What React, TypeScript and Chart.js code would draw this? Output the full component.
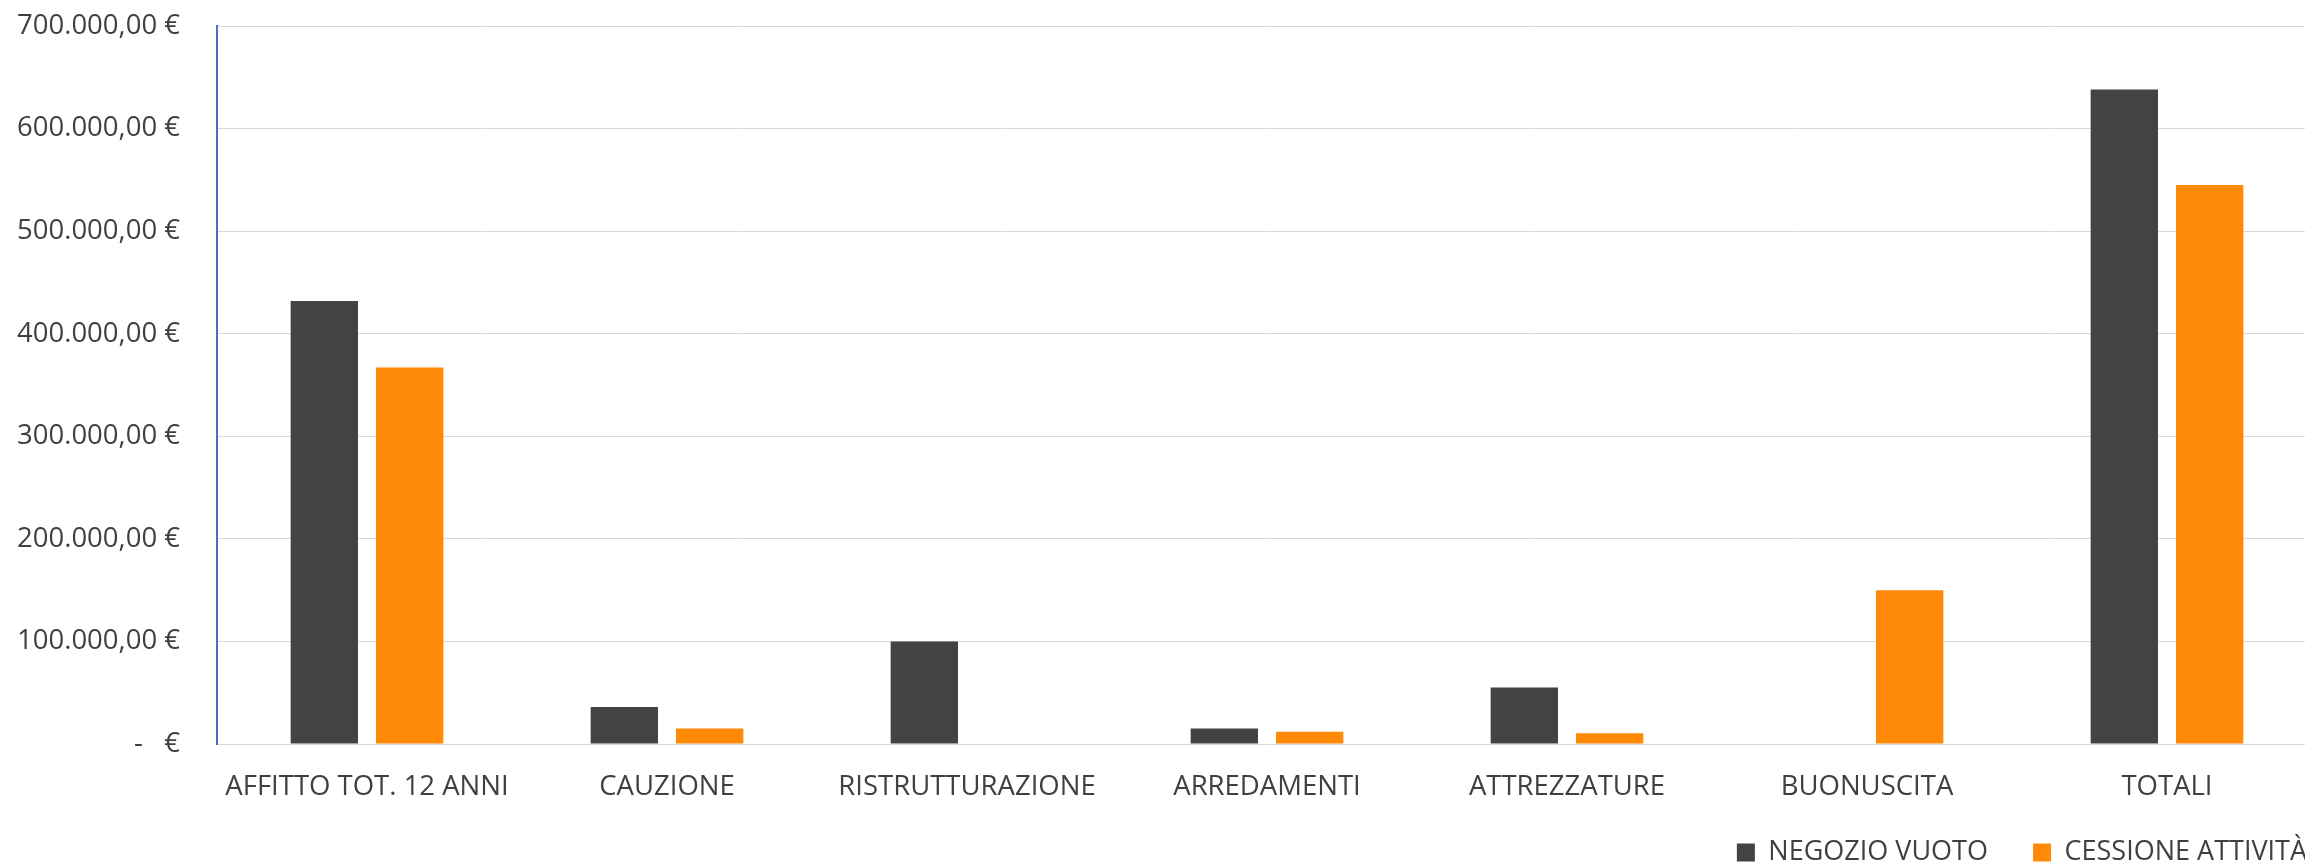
import React, { useEffect, useRef } from "react";
import { Chart, registerables } from "chart.js";

Chart.register(...registerables);

const categories = [
  "AFFITTO TOT. 12 ANNI",
  "CAUZIONE",
  "RISTRUTTURAZIONE",
  "ARREDAMENTI",
  "ATTREZZATURE",
  "BUONUSCITA",
  "TOTALI",
];
const negozioVuoto = [432000, 36000, 100000, 15000, 55000, 0, 638000];
const cessioneAttivita = [367000, 15000, 0, 12000, 10500, 150000, 545000];
const seriesNames = ["NEGOZIO VUOTO", "CESSIONE ATTIVITÀ"];
const yMax = 700000;
const yStep = 100000;

const fmtEuro = (v: number) => {
  if (v === 0) return "-   €";
  return String(Math.round(v)).replace(/\B(?=(\d{3})+(?!\d))/g, ".") + ",00 €";
};

const TEXT = "#404040";
const FONT = "'Open Sans'";

export default function App() {
  const ref = useRef<HTMLCanvasElement | null>(null);
  useEffect(() => {
    if (!ref.current) return;
    const chart = new Chart(ref.current, {
      type: "bar",
      data: {
        labels: categories,
        datasets: [
          {
            label: seriesNames[0],
            data: negozioVuoto,
            backgroundColor: "#434343",
            borderWidth: 0,
            categoryPercentage: 0.569,
            barPercentage: 0.789,
          },
          {
            label: seriesNames[1],
            data: cessioneAttivita,
            backgroundColor: "#FF8A07",
            borderWidth: 0,
            categoryPercentage: 0.569,
            barPercentage: 0.789,
          },
        ],
      },
      options: {
        animation: false,
        responsive: false,
        devicePixelRatio: 1,
        layout: { padding: { top: 26, left: 0, right: 0, bottom: 0 } },
        plugins: {
          tooltip: { enabled: false },
          legend: {
            position: "bottom",
            align: "end",
            labels: {
              color: TEXT,
              font: { family: FONT, size: 27 },
              boxWidth: 18,
              boxHeight: 18,
              padding: 10,
              generateLabels: (c: any) => {
                const items = Chart.defaults.plugins.legend.labels.generateLabels(c);
                return items.map((it: any, i: number) => ({
                  ...it,
                  lineWidth: 0,
                  text: i === 0 ? it.text + "     " : it.text,
                }));
              },
            },
          },
        },
        scales: {
          x: {
            grid: { display: false, drawTicks: false },
            border: { display: true, color: "#D9D9D9", width: 1 },
            ticks: {
              color: TEXT,
              font: { family: FONT, size: 27.5 },
              padding: 27,
              maxRotation: 0,
              autoSkip: false,
            },
            afterFit: (s: any) => {
              s.height = 85;
            },
          },
          y: {
            min: 0,
            max: yMax,
            grid: { color: "#D9D9D9", lineWidth: 1, drawTicks: false },
            border: { display: true, color: "#4472C4", width: 2 },
            ticks: {
              stepSize: yStep,
              color: TEXT,
              font: { family: FONT, size: 27.5 },
              padding: 37,
              callback: (v: any) => fmtEuro(Number(v)),
            },
            afterFit: (s: any) => {
              s.width = 217;
              s.paddingTop = 0;
              s.paddingBottom = 0;
            },
          },
        },
      },
    });
    return () => chart.destroy();
  }, []);

  return (
    <div
      style={{
        position: "fixed",
        left: 0,
        top: 0,
        width: "100vw",
        height: "100vh",
        overflow: "hidden",
        background: "#fff",
      }}
    >
      <canvas
        ref={ref}
        width={2317}
        height={876}
        style={{ position: "absolute", left: 0, top: 0, width: 2317, height: 876 }}
      />
    </div>
  );
}
